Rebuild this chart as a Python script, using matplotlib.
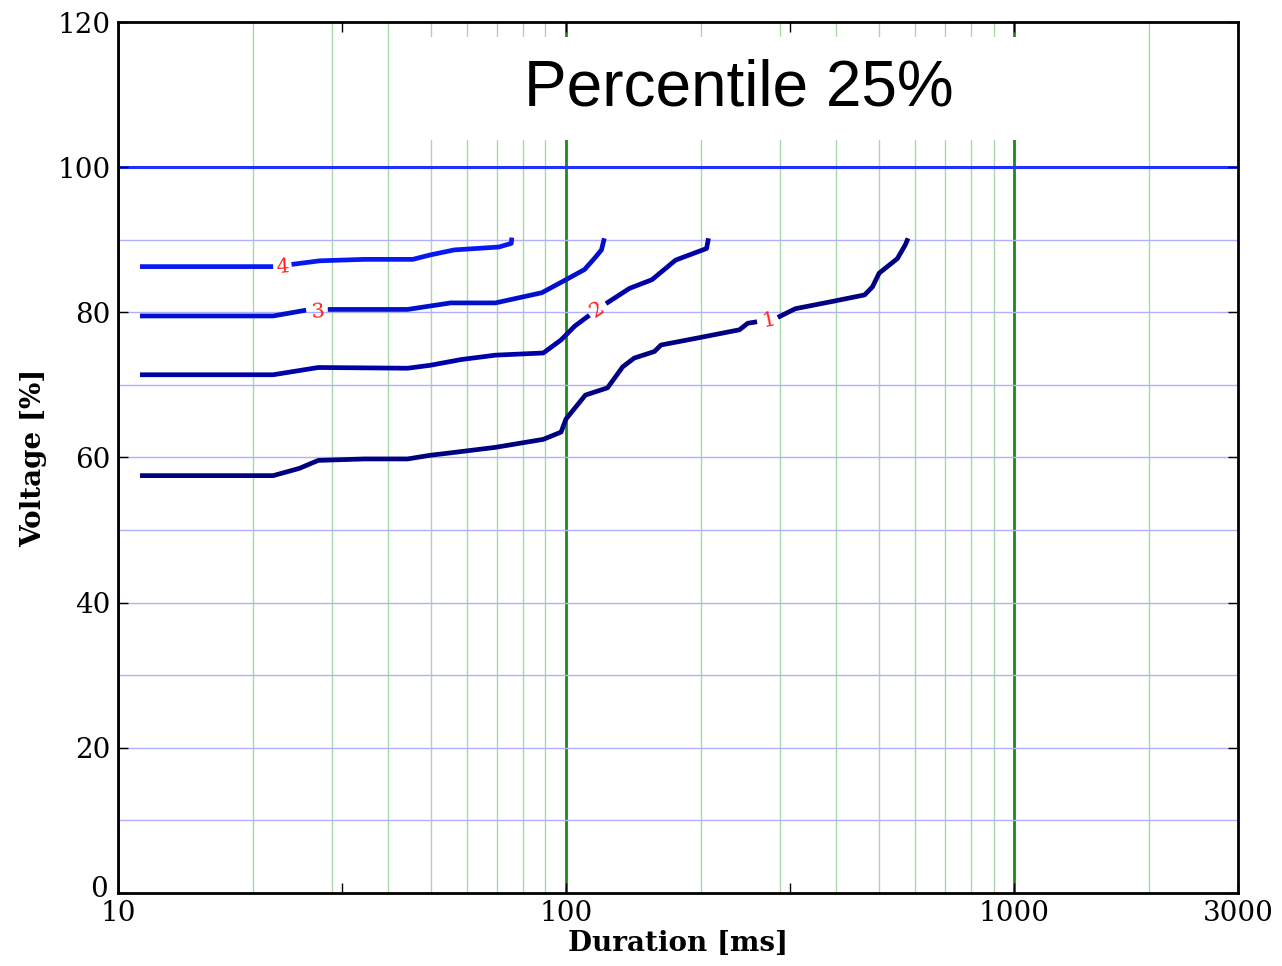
import numpy as np
import matplotlib
matplotlib.use("Agg")
import matplotlib.pyplot as plt
import matplotlib.transforms as mtransforms
from matplotlib.patches import Rectangle
from matplotlib.ticker import NullLocator

nan = np.nan

# curves (duration ms, voltage %), nan = gap for the label
c1_x = [11.2, 22.2, 25.4, 28.0, 35.5, 44.3, 49.7, 56.3, 69.6, 89, 97.5, 100, 110.5, 123.8,
        133.9, 142, 157.5, 163, 198, 244, 254.5, 267, nan, 297, 325, 393, 464, 483, 500,
        549, 572, 580]
c1_y = [57.5, 57.5, 58.5, 59.6, 59.8, 59.8, 60.3, 60.7, 61.4, 62.5, 63.5, 65.3, 68.6, 69.6,
        72.5, 73.7, 74.6, 75.5, 76.5, 77.6, 78.5, 78.7, nan, 79.3, 80.5, 81.5, 82.4, 83.5, 85.4,
        87.4, 89.3, 90.2]

c2_x = [11.2, 22.2, 28, 44.3, 49.7, 58.4, 69.6, 89, 97.5, 104.6, 112.8, nan, 122.8, 138.6,
        155.6, 175.7, 198, 206, 208]
c2_y = [71.4, 71.4, 72.4, 72.3, 72.7, 73.5, 74.1, 74.4, 76.2, 78.1, 79.6, nan, 81.2, 83.3,
        84.5, 87.2, 88.4, 88.8, 90.2]

c3_x = [11.2, 22.2, 26.3, nan, 29.4, 44.3, 55.3, 69.6, 88.3, 100, 110, 116, 120, 121.8]
c3_y = [79.5, 79.5, 80.3, nan, 80.4, 80.4, 81.3, 81.3, 82.7, 84.5, 85.9, 87.5, 88.6, 90.2]

c4_x = [11.2, 22.2, nan, 24.4, 28.2, 35.5, 45.5, 49.7, 56.3, 70.8, 75.5, 75.7]
c4_y = [86.3, 86.3, nan, 86.6, 87.1, 87.3, 87.3, 87.9, 88.6, 89.0, 89.5, 90.3]

curves = [(c1_x, c1_y), (c2_x, c2_y), (c3_x, c3_y), (c4_x, c4_y)]
curve_colors = ["#000080", "#0000a8", "#0010cc", "#0818f0"]

# inline labels: text, x, y, rotation
labels = [("1", 283, 78.9, 12), ("2", 117.5, 80.4, 33), ("3", 27.9, 80.1, 4), ("4", 23.3, 86.2, 4)]

decades = [10, 100, 1000]
minor_x = [20, 30, 40, 50, 60, 70, 80, 90, 200, 300, 400, 500, 600, 700, 800, 900, 2000]
minor_y = [10, 20, 30, 40, 50, 60, 70, 80, 90]

xticks = [10, 10 ** 1.5, 100, 10 ** 2.5, 1000, 10 ** 3.5]
xticklabels = ["10", "", "100", "", "1000", "3000"]
yticks = [0, 20, 40, 60, 80, 100, 120]

plt.rcParams["font.family"] = "DejaVu Serif"

fig = plt.figure(figsize=(12.82, 9.66), dpi=100)
ax = fig.add_axes([0.092, 0.0756, 0.8737, 0.9016])

ax.set_xscale("log")
ax.set_xlim(10, 10 ** 3.5)
ax.set_ylim(0, 120)

for v in minor_x:
    ax.axvline(v, color="#a8d8a8", lw=1.0, zorder=1)
for v in decades:
    ax.axvline(v, color="#1a8a1a", lw=2.0, zorder=1)
for v in minor_y:
    ax.axhline(v, color="#b0b0ff", lw=1.0, zorder=1)
ax.axhline(100, color="#2030ff", lw=2.2, zorder=1)

for (xs, ys), col in zip(curves, curve_colors):
    ax.plot(xs, ys, color=col, lw=3.4, solid_capstyle="butt", zorder=2)

for t, lx, ly, rot in labels:
    ax.text(lx, ly, t, color="#ff2020", fontsize=15, ha="center", va="center",
            rotation=rot, zorder=3)

ax.set_xticks(xticks)
ax.set_xticklabels(xticklabels)
ax.xaxis.set_minor_locator(NullLocator())
ax.set_yticks(yticks)
ax.tick_params(direction="in", top=True, right=True, length=7, width=1,
               labelsize=20, pad=5)

# nudge the "0" label up a little so it clears the "10" below it
lab0 = ax.get_yticklabels()[0]
lab0.set_transform(lab0.get_transform() +
                   mtransforms.ScaledTranslation(-2 / 72, 5 / 72, fig.dpi_scale_trans))

for s in ax.spines.values():
    s.set_linewidth(2)
    s.set_zorder(4)

ax.set_xlabel("Duration [ms]", fontsize=20, fontweight="bold", labelpad=2)
ax.set_ylabel("Voltage [%]", fontsize=20, fontweight="bold", labelpad=8)

# white box with the title
ax.add_patch(Rectangle((0.261, 0.8645), 0.607, 0.1183, transform=ax.transAxes,
                       facecolor="white", edgecolor="none", zorder=3))
ax.text(0.554, 0.924, "Percentile 25%", transform=ax.transAxes, fontsize=46,
        family="Liberation Sans", ha="center", va="center", zorder=5)

fig.savefig("out.png", dpi=100)
